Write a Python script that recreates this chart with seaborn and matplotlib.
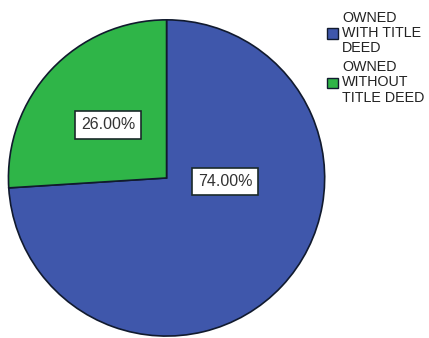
import matplotlib
matplotlib.use("Agg")
import matplotlib.pyplot as plt
import seaborn as sns
from matplotlib.patches import Patch

sns.set_style("white")
plt.rcParams["font.family"] = ["Liberation Sans", "DejaVu Sans"]

categories = ["OWNED\nWITH TITLE\nDEED", "OWNED\nWITHOUT\nTITLE DEED"]
shares = [74.0, 26.0]
colors = ["#3f57ab", "#2fb548"]
# label anchor points in units of the pie radius
label_pos = [(0.37, -0.02), (-0.37, 0.335)]

fig = plt.figure(figsize=(4.29, 3.38), dpi=100)
ax = fig.add_axes([0.016, 0.001, 0.7445, 0.945])
wedges, _ = ax.pie(shares, colors=colors, startangle=90, counterclock=False,
                   wedgeprops=dict(edgecolor="#111a2e", linewidth=1.2))
ax.set_aspect("equal")
ax.set_xlim(-1.01, 1.01)
ax.set_ylim(-1.01, 1.01)

for val, (x, y) in zip(shares, label_pos):
    ax.text(x, y, f"{val:.2f}%", ha="center", va="center", fontsize=11.5,
            color="#333333",
            bbox=dict(boxstyle="square,pad=0.38", facecolor="white",
                      edgecolor="#1a2a2a", linewidth=1.2))

handles = [Patch(facecolor=c, edgecolor="#111a2e", linewidth=1.0) for c in colors]
fig.legend(handles, categories, loc="upper left", bbox_to_anchor=(0.749, 0.985),
           frameon=False, handlelength=0.75, handleheight=0.75,
           handletextpad=0.3, labelspacing=0.33, borderaxespad=0,
           prop=dict(size=10.3))
for t in fig.legends[0].get_texts():
    t.set_color("#222222")
    t.set_linespacing(1.12)

fig.savefig("out.png", dpi=100)
